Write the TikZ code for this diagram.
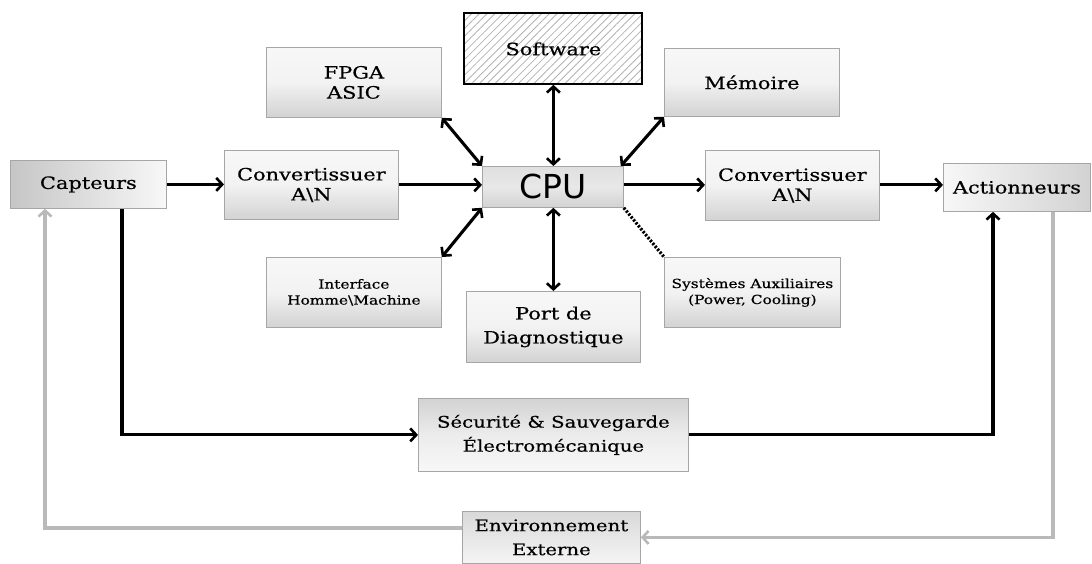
\documentclass[tikz,border=0pt]{standalone}
\usepackage{fontspec}
\setmainfont{DejaVu Serif}[FakeStretch=1.23,FakeBold=0.5]
\newfontfamily\cpufont{DejaVu Sans}
\usetikzlibrary{arrows.meta,shadings,patterns.meta,calc}

\begin{document}
\begin{tikzpicture}[x=1pt,y=-1pt,
  box/.style={draw=gray!70,line width=0.8pt,anchor=north west,inner sep=2pt,
    align=center,font=\fontsize{17}{20}\selectfont,
    top color=gray!6,bottom color=gray!35,middle color=gray!10},
  hbox/.style={box,left color=gray!45,right color=gray!6},
  hboxr/.style={box,left color=gray!6,right color=gray!35},
  arr/.style={line width=3.1pt,-{Straight Barb[length=6pt,width=13pt,line width=2.6pt]}},
  biarr/.style={line width=3.1pt,{Straight Barb[length=6pt,width=13pt,line width=2.6pt]}-{Straight Barb[length=6pt,width=13pt,line width=2.6pt]}},
  garr/.style={line width=3.2pt,draw=gray!55,-{Straight Barb[length=6pt,width=13pt,line width=2.6pt]}},
  dotline/.style={line width=3.2pt,dash pattern=on 2.2pt off 1.6pt}
]
\useasboundingbox (0,0) rectangle (1092,563);

% blocks
\node[hbox,minimum width=156pt,minimum height=48pt] (cap) at (10,160) {Capteurs};
\node[box,minimum width=174pt,minimum height=69pt] (conva) at (224,150) {Convertissuer\\A\textbackslash N};
\node[box,minimum width=175pt,minimum height=70pt] (fpga) at (266,47) {FPGA\\ASIC};
\node[draw=black,line width=2pt,anchor=north west,minimum width=178pt,minimum height=71pt,
  pattern={Lines[angle=45,distance=5.5pt,line width=0.8pt]},pattern color=gray!60] (soft) at (464,13) {};
\node[font=\fontsize{17}{20}\selectfont] (softlbl) at (soft.center) {Software};
\node[box,minimum width=141pt,minimum height=41pt,top color=gray!25,bottom color=gray!35,middle color=gray!18,
  font=\cpufont\fontsize{33}{34}\selectfont,inner sep=0pt] (cpu) at (482,166) {CPU};
\node[box,minimum width=175pt,minimum height=68pt] (mem) at (664,48) {Mémoire};
\node[box,minimum width=174pt,minimum height=70pt] (convb) at (705,150) {Convertissuer\\A\textbackslash N};
\node[hboxr,minimum width=147pt,minimum height=48pt] (act) at (943,163) {Actionneurs};
\node[box,minimum width=175pt,minimum height=70pt,font=\fontsize{12.5}{16}\selectfont] (hmi) at (266,257) {Interface\\Homme\textbackslash Machine};
\node[box,minimum width=174pt,minimum height=71pt,font=\fontsize{17}{24}\selectfont] (port) at (466,291) {Port de\\Diagnostique};
\node[box,minimum width=176pt,minimum height=70pt,font=\fontsize{12.5}{16}\selectfont] (aux) at (664,257) {Systèmes Auxiliaires\\(Power, Cooling)};
\node[box,minimum width=270pt,minimum height=73pt,top color=gray!35,bottom color=gray!6,middle color=gray!15,
  font=\fontsize{16}{24}\selectfont] (secu) at (418,398) {Sécurité \& Sauvegarde\\Électromécanique};
\node[box,minimum width=178pt,minimum height=52pt,top color=gray!30,bottom color=gray!8,
  font=\fontsize{16}{24}\selectfont] (env) at (462,511) {Environnement\\Externe};

% routing points of the loops
\coordinate (capx) at (122,0);
\coordinate (actx) at (993,0);
\coordinate (retx) at (1053,0);
\coordinate (capret) at (45,0);
\coordinate (envout) at (0,528);

% signal chain
\draw[arr] (cap.east) -- (conva.west |- cap.east);
\draw[arr] (conva.east) -- (cpu.west |- conva.east);
\draw[arr] (cpu.east |- conva.east) -- (convb.west |- conva.east);
\draw[arr] (convb.east |- conva.east) -- (act.west |- conva.east);

% links around the CPU
\draw[biarr] (fpga.south east) -- (cpu.north west);
\draw[biarr] (soft.south) -- (cpu.north -| soft.south);
\draw[biarr] (mem.south west) -- ($(cpu.north east)+(-3,0)$);
\draw[biarr] (hmi.north east) -- (cpu.south west);
\draw[biarr] (cpu.south -| port.north) -- (port.north);
\draw[dotline] (cpu.south east) -- (aux.north west);

% safety path
\draw[arr] (cap.south -| capx) |- (secu.west);
\draw[arr] (secu.east) -| (act.south -| actx);

% environment feedback
\draw[garr] (act.south -| retx) |- (env.east);
\draw[garr] (env.west |- envout) -| (cap.south -| capret);
\end{tikzpicture}
\end{document}
